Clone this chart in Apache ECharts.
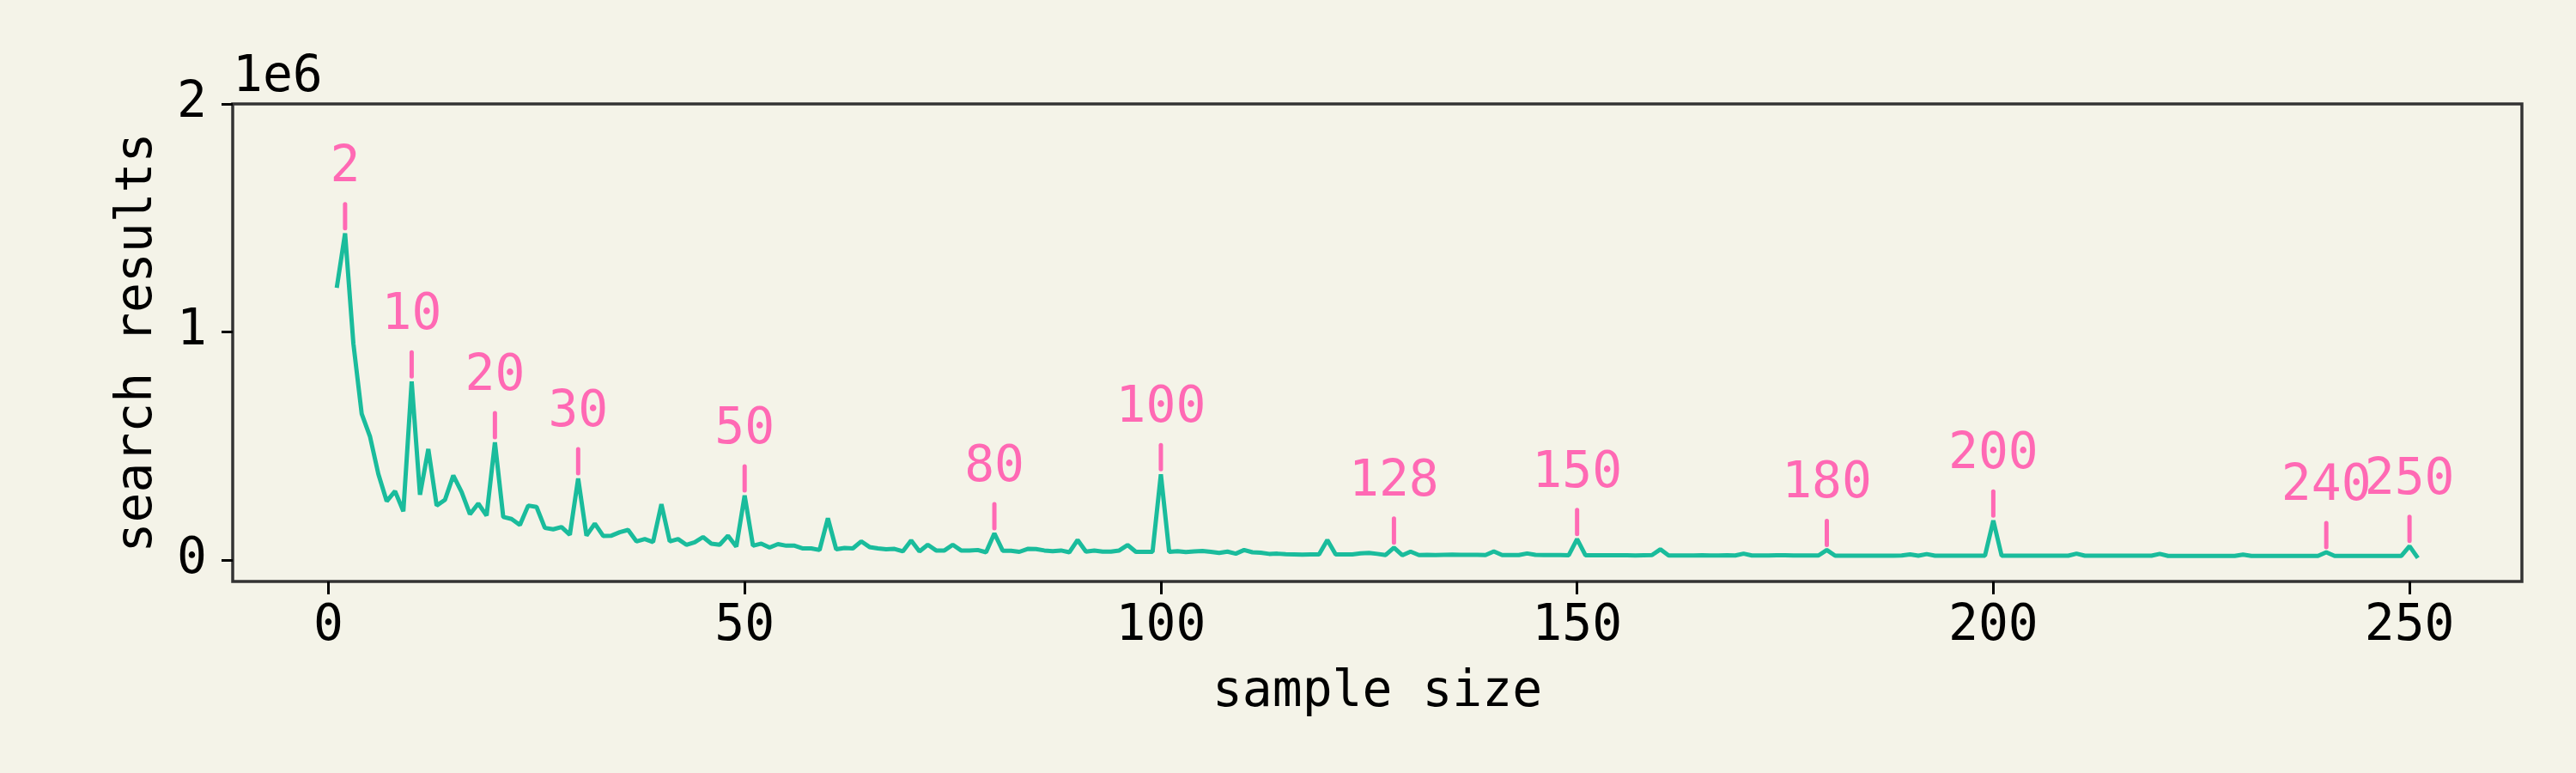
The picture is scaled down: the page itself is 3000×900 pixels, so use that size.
<!DOCTYPE html>
<html>
<head>
<meta charset="utf-8">
<script src="https://cdn.jsdelivr.net/npm/echarts@6/dist/echarts.min.js"></script>
<style>
html,body{margin:0;padding:0;background:#f4f3e8;}
#chart{width:3000px;height:900px;}
</style>
</head>
<body>
<div id="chart"></div>
<script>
// ---- data ----
const searchResults = [
 1193000,1432000,948000,640000,540000,376000,257000,301000,213000,782000,
 285000,486000,238000,263000,370000,297000,200000,247000,194000,515000,
 188000,179000,153000,238000,232000,140000,134000,144000,110000,357000,
 106000,159000,105000,106000,121000,131000,81000,91000,78000,244000,
 81000,91000,66000,77000,100000,71000,66000,106000,58000,282000,
 62000,71000,54000,69000,62000,62000,50000,50000,43000,182000,
 46000,52000,50000,81000,56000,50000,46000,48000,37000,85000,
 37000,66000,41000,41000,66000,41000,41000,43000,33000,116000,
 40000,40000,35000,48000,47000,41000,38000,41000,33000,87000,
 36000,41000,36000,36000,41000,65000,35000,35000,35000,375000,
 35000,38000,34000,37000,39000,35000,30000,36000,27000,43000,
 33000,31000,26000,27000,25000,24000,23000,24000,24000,87000,
 24000,24000,24000,28000,30000,26000,21000,53000,20000,36000,
 21000,22000,21000,22000,23000,22000,22000,22000,21000,37000,
 21000,21000,21000,28000,22000,21000,21000,21000,20000,91000,
 20000,20000,20000,20000,20000,20000,19000,20000,21000,46000,
 19000,19000,19000,19000,20000,19000,19000,20000,19000,27000,
 19000,19000,19000,20000,20000,19000,19000,19000,19000,43000,
 18000,18000,18000,18000,18000,18000,18000,18000,19000,24000,
 18000,25000,18000,18000,18000,18000,18000,18000,18000,172000,
 18000,18000,18000,18000,18000,18000,18000,18000,18000,27000,
 18000,18000,18000,18000,18000,18000,18000,18000,18000,26000,
 17000,17000,17000,17000,17000,17000,17000,17000,17000,23000,
 17000,17000,17000,17000,17000,17000,17000,17000,17000,33000,
 17000,17000,17000,17000,17000,17000,17000,17000,17000,60000,
 8000
];
const firstSampleSize = 1;
const annotatedSizes = [2,10,20,30,50,80,100,128,150,180,200,240,250];
const xTicks = [0,50,100,150,200,250];
const yTicks = [0,1000000,2000000];
const yTickLabels = ['0','1','2'];
const yExponentLabel = '1e6';
const xTitle = 'sample size';
const yTitle = 'search results';

// ---- build ----
const FONT = '"DejaVu Sans Mono", monospace';
const FS = 58;
const lineData = searchResults.map((v,i)=>[firstSampleSize+i, v]);
const annData = annotatedSizes.map(s=>[s, searchResults[s-firstSampleSize]]);

const chart = echarts.init(document.getElementById('chart'), null, {renderer:'canvas'});
chart.setOption({
  backgroundColor:'#f4f3e8',
  animation:false,
  grid:{left:271,right:63,top:121,bottom:223,show:true,borderColor:'#333333',borderWidth:3.5,backgroundColor:'#f4f3e8'},
  graphic:[{
    type:'text', left:271, top:62,
    style:{text:yExponentLabel, fill:'#000', font:FS+'px '+FONT}
  }],
  xAxis:{
    type:'value', min:-11.5, max:263.5,
    name:xTitle, nameLocation:'middle', nameGap:101,
    nameTextStyle:{color:'#000',fontFamily:FONT,fontSize:FS,lineHeight:58},
    axisLine:{show:false,onZero:false},
    axisTick:{show:true,length:15,lineStyle:{color:'#000',width:3},customValues:xTicks},
    axisLabel:{show:true,color:'#000',fontFamily:FONT,fontSize:FS,lineHeight:58,margin:24,customValues:xTicks,formatter:v=>String(v)},
    splitLine:{show:false}
  },
  yAxis:{
    type:'value', min:-95000, max:2000000,
    name:yTitle, nameLocation:'middle', nameGap:81, nameRotate:90,
    nameTextStyle:{color:'#000',fontFamily:FONT,fontSize:FS,lineHeight:58},
    axisLine:{show:false,onZero:false},
    axisTick:{show:true,length:13,lineStyle:{color:'#000',width:3},customValues:yTicks},
    axisLabel:{show:true,color:'#000',fontFamily:FONT,fontSize:FS,margin:30,customValues:yTicks,
      formatter:v=>{const i=yTicks.indexOf(v);return i>=0?yTickLabels[i]:'';}},
    splitLine:{show:false}
  },
  series:[{
    type:'line', data:lineData, showSymbol:false, symbol:'none',
    lineStyle:{color:'#1abc9c',width:5}, z:2
  },{
    type:'custom', data:annData, clip:false, z:3,
    renderItem:function(params, api){
      const p = api.coord([api.value(0), api.value(1)]);
      return {type:'group', children:[
        {type:'line', shape:{x1:p[0],y1:p[1]-6,x2:p[0],y2:p[1]-34},
         style:{stroke:'#ff69b4',lineWidth:5,lineCap:'round'}},
        {type:'text', style:{text:String(api.value(0)), x:p[0], y:p[1]-76,
          align:'center', verticalAlign:'middle', fill:'#ff69b4', font:FS+'px '+FONT}}
      ]};
    }
  }]
});
</script>
</body>
</html>
